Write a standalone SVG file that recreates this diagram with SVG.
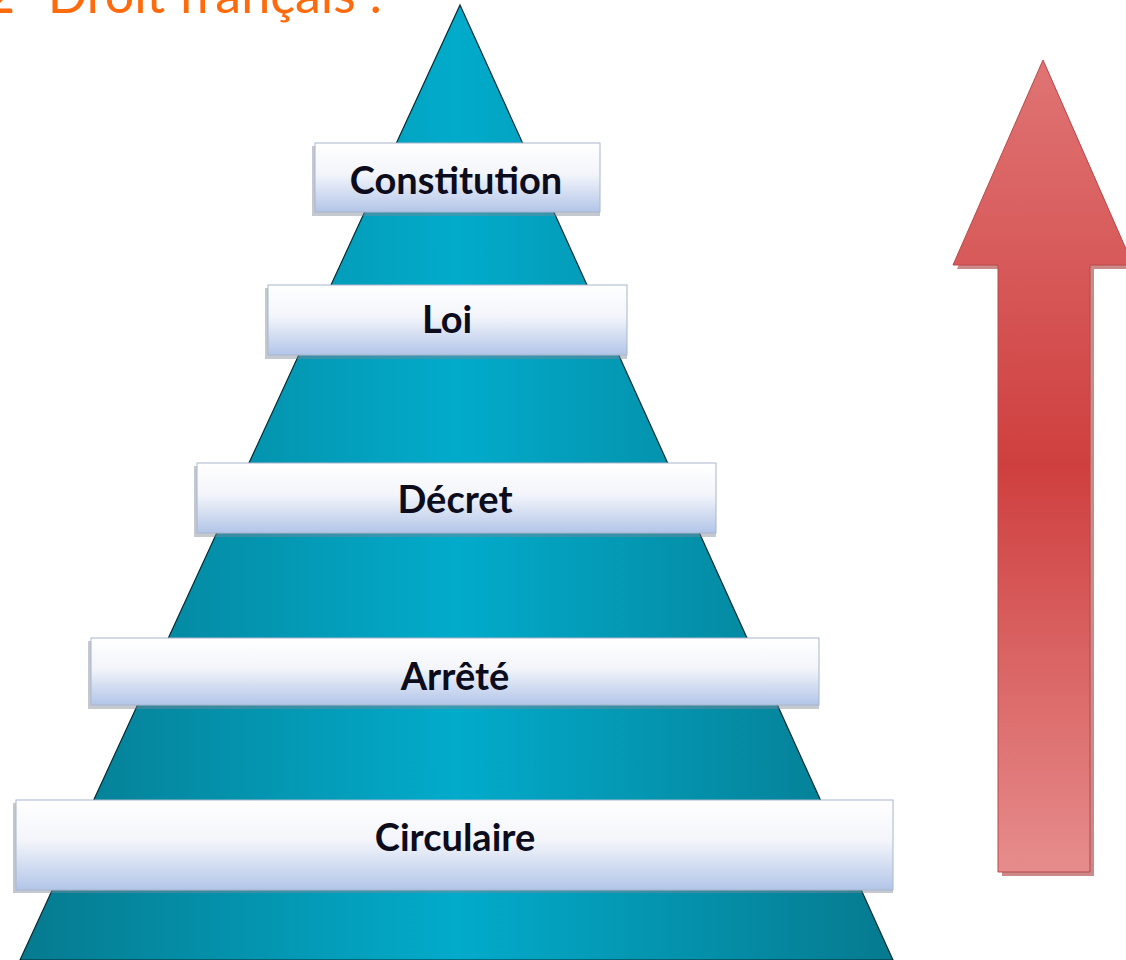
<svg xmlns="http://www.w3.org/2000/svg" width="1126" height="960" viewBox="0 0 1126 960">
<style>
.title{font-family:Lato,"Open Sans","Liberation Sans",sans-serif;font-size:52px;fill:#ff6a0d}
.lbl{font-family:Lato,"Open Sans","Liberation Sans",sans-serif;font-weight:bold;font-size:38px;fill:#0c0c1c;text-anchor:middle}
.box{fill:url(#boxg);stroke:#a9b6cc;stroke-width:1}
.shadow{fill:#7d8896;opacity:0.45}
</style>
<defs>
<linearGradient id="pyr" x1="0" y1="0" x2="1" y2="0">
<stop offset="0" stop-color="#067a8f"/>
<stop offset="0.5" stop-color="#02abcb"/>
<stop offset="1" stop-color="#067a8f"/>
</linearGradient>
<linearGradient id="boxg" x1="0" y1="0" x2="0" y2="1">
<stop offset="0" stop-color="#ffffff"/>
<stop offset="0.45" stop-color="#f3f5fa"/>
<stop offset="1" stop-color="#b2c5e8"/>
</linearGradient>
<linearGradient id="arr" x1="0" y1="0" x2="0" y2="1">
<stop offset="0" stop-color="#e07474"/>
<stop offset="0.5" stop-color="#cf3f3f"/>
<stop offset="1" stop-color="#e68c8c"/>
</linearGradient>
</defs>

<text class="title" x="-15" y="13">2- Droit français :</text>

<g id="pyramid">
<polygon points="460,5 893,960 20,960" fill="url(#pyr)" stroke="#0a2a30" stroke-width="1.2"/>
</g>

<g id="arrow">
<path d="M1045,64 L1135,269 L1094,269 L1094,876 L1002,876 L1002,269 L957,269 Z" fill="#a83a3a" opacity="0.6"/>
<path d="M1043,60 L1133,265 L1090,265 L1090,872 L998,872 L998,265 L953,265 Z" fill="url(#arr)" stroke="#b84848" stroke-width="1"/>
</g>

<g id="constitution">
<rect class="shadow" x="312" y="146" width="288" height="70"/>
<rect class="box" x="315" y="143" width="285" height="69"/>
<text class="lbl" x="456" y="194">Constitution</text>
</g>

<g id="loi">
<rect class="shadow" x="265" y="288" width="362" height="71"/>
<rect class="box" x="268" y="285" width="359" height="70"/>
<text class="lbl" x="447" y="333">Loi</text>
</g>

<g id="decret">
<rect class="shadow" x="194" y="466" width="522" height="71"/>
<rect class="box" x="197" y="463" width="519" height="70"/>
<text class="lbl" x="455" y="513">Décret</text>
</g>

<g id="arrete">
<rect class="shadow" x="88" y="641" width="731" height="68"/>
<rect class="box" x="91" y="638" width="728" height="67"/>
<text class="lbl" x="455" y="690">Arrêté</text>
</g>

<g id="circulaire">
<rect class="shadow" x="13" y="803" width="880" height="90"/>
<rect class="box" x="16" y="800" width="877" height="90"/>
<text class="lbl" x="455" y="851">Circulaire</text>
</g>
</svg>
